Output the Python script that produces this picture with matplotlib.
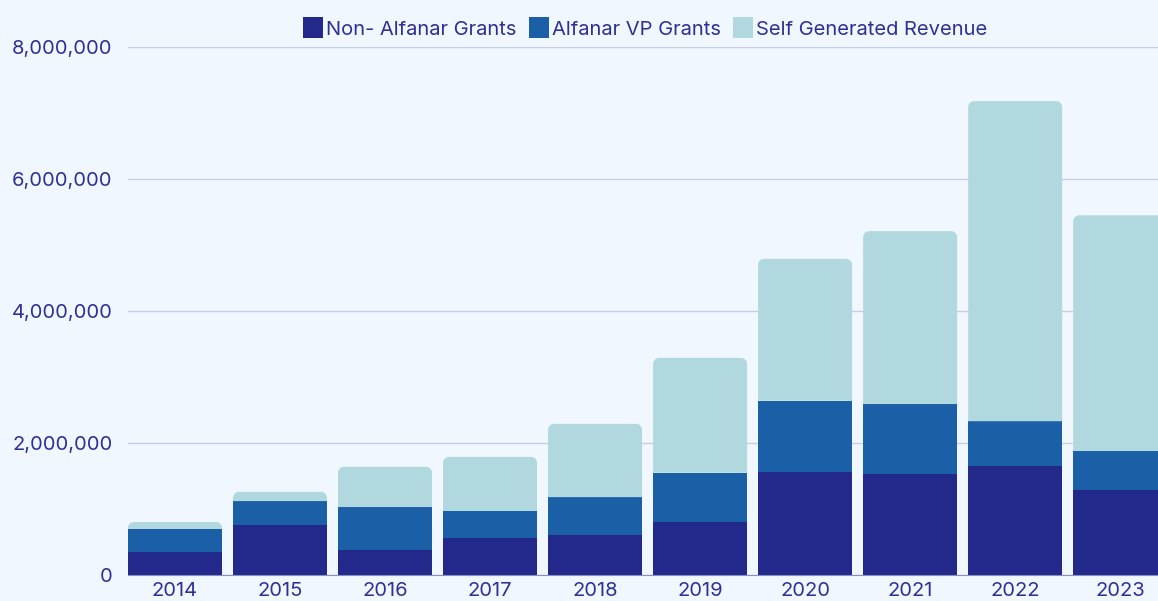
import matplotlib.pyplot as plt
from matplotlib.patches import PathPatch
from matplotlib.path import Path
from matplotlib.ticker import FuncFormatter

# data
years = ['2014', '2015', '2016', '2017', '2018', '2019', '2020', '2021', '2022', '2023']
non_alfanar = [353000, 762000, 383000, 565000, 606000, 803000, 1560000, 1530000, 1650000, 1290000]
alfanar_vp = [344000, 358000, 647000, 405000, 574000, 747000, 1080000, 1060000, 680000, 590000]
self_gen = [106000, 140000, 610000, 820000, 1110000, 1740000, 2150000, 2620000, 4850000, 3570000]

labels = ['Non- Alfanar Grants', 'Alfanar VP Grants', 'Self Generated Revenue']
colors = ['#22298a', '#1b5fa6', '#b1d8df']
bg = '#f0f7ff'
txt = '#2e3192'

plt.rcParams['font.family'] = ['Inter', 'DejaVu Sans']


def top_rounded(x0, y0, w, h, rx, ry):
    # rectangle with only the two upper corners rounded
    ry = min(ry, h)
    k = 0.5523
    x1, y1 = x0 + w, y0 + h
    verts = [(x0, y0), (x1, y0), (x1, y1 - ry),
             (x1, y1 - ry + k * ry), (x1 - rx + k * rx, y1), (x1 - rx, y1),
             (x0 + rx, y1),
             (x0 + rx - k * rx, y1), (x0, y1 - ry + k * ry), (x0, y1 - ry),
             (x0, y0)]
    codes = [Path.MOVETO, Path.LINETO, Path.LINETO,
             Path.CURVE4, Path.CURVE4, Path.CURVE4,
             Path.LINETO,
             Path.CURVE4, Path.CURVE4, Path.CURVE4,
             Path.CLOSEPOLY]
    return Path(verts, codes)


fig = plt.figure(figsize=(11.58, 6.01), dpi=100, facecolor=bg)
ax = fig.add_axes([128 / 1158, 26 / 601, 1 - 128 / 1158, (575 - 47) / 601])
ax.set_facecolor(bg)

x = list(range(len(years)))
w = 0.895
ax.bar(x, non_alfanar, width=w, color=colors[0], label=labels[0], zorder=3)
ax.bar(x, alfanar_vp, width=w, bottom=non_alfanar, color=colors[1], label=labels[1], zorder=3)
ax.bar(x, [0] * len(x), width=w, color=colors[2], label=labels[2])

# 1 px = 1/105 x-units, 15152 y-units
for i in x:
    b = non_alfanar[i] + alfanar_vp[i]
    p = top_rounded(i - w / 2, b, w, self_gen[i], 6 / 105, 6 * 15152)
    ax.add_patch(PathPatch(p, fc=colors[2], ec='none', zorder=3))

ax.set_xlim(-0.447, 9.36)
ax.set_ylim(0, 8000000)
ax.set_yticks([0, 2000000, 4000000, 6000000, 8000000])
ax.yaxis.set_major_formatter(FuncFormatter(lambda v, p: f'{int(v):,}'))
ax.set_xticks(x)
ax.set_xticklabels(years)
ax.tick_params(axis='both', length=0, colors=txt, labelsize=14.5)
ax.tick_params(axis='y', pad=11)
ax.tick_params(axis='x', pad=5)
ax.grid(axis='y', color='#c8cce6', linewidth=1, zorder=0)
for s in ['left', 'right', 'top']:
    ax.spines[s].set_visible(False)
ax.spines['bottom'].set_color('#8a8cc4')
ax.spines['bottom'].set_zorder(4)

ax.legend(loc='center', bbox_to_anchor=(645 / 1158, 1 - 28 / 601), bbox_transform=fig.transFigure,
          ncol=3, frameon=False, fontsize=14.5, labelcolor=txt, handlelength=1.0, handleheight=1.2,
          handletextpad=0.15, columnspacing=0.6)

fig.savefig('out.png', dpi=100, facecolor=bg)
